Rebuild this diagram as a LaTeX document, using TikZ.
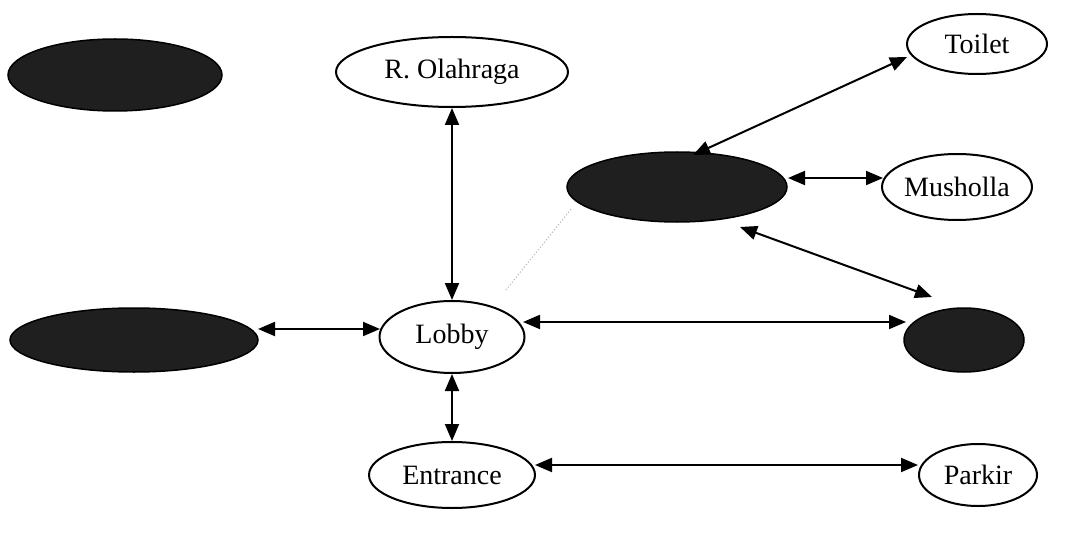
\documentclass[tikz,border=0pt]{standalone}
\usepackage{fontspec}
\setmainfont{Liberation Serif}
\usetikzlibrary{shapes.geometric,arrows.meta}
\tikzset{
  lite/.style 2 args={ellipse, draw=black, line width=2pt, fill=white,
    minimum width=#1, minimum height=#2, inner sep=0pt,
    font=\fontsize{28}{30}\selectfont},
  dark/.style 2 args={ellipse, draw=black, line width=1.5pt, fill=black!88,
    minimum width=#1, minimum height=#2, inner sep=0pt},
  biarrow/.style={line width=2pt,
    {Triangle[length=17pt,width=14pt]}-{Triangle[length=17pt,width=14pt]}},
  faint/.style={line width=1.2pt, gray!50, dotted}
}
\begin{document}
\begin{tikzpicture}[x=1pt,y=-1pt]
\useasboundingbox (0,0) rectangle (1073,540);
% room nodes
\node[dark={214pt}{72pt}]  (dTL)    at (115,75)  {};
\node[lite={232pt}{70pt}]  (Olah)   at (452,72)  {R. Olahraga};
\node[lite={140pt}{60pt}]  (Toilet) at (977,44)  {Toilet};
\node[dark={220pt}{70pt}]  (dMid)   at (677,187) {};
\node[lite={150pt}{66pt}]  (Mush)   at (957,187) {Musholla};
\node[dark={248pt}{64pt}]  (dLeft)  at (134,340) {};
\node[lite={145pt}{72pt}]  (Lobby)  at (452,337) {Lobby};
\node[dark={120pt}{64pt}]  (dRight) at (964,340) {};
\node[lite={166pt}{66pt}]  (Entr)   at (452,475) {Entrance};
\node[lite={118pt}{62pt}]  (Parkir) at (978,475) {Parkir};
% connections
\draw[biarrow] (Olah.south) -- (Lobby.north);
\draw[biarrow] (Lobby.south) -- (Entr.north);
\draw[biarrow] ([xshift=124pt,yshift=11pt]dLeft.center) -- ([xshift=-72pt,yshift=8pt]Lobby.center);
\draw[biarrow] ([xshift=71pt,yshift=15pt]Lobby.center) -- ([xshift=-58pt,yshift=18pt]dRight.center);
\draw[biarrow] ([xshift=83pt,yshift=10pt]Entr.center) -- ([xshift=-60pt,yshift=10pt]Parkir.center);
\draw[biarrow] ([xshift=16pt,yshift=32pt]dMid.center) -- ([xshift=-70pt,yshift=-13pt]Toilet.center);
\draw[biarrow] ([xshift=111pt,yshift=9pt]dMid.center) -- ([xshift=-74pt,yshift=9pt]Mush.center);
\draw[biarrow] ([xshift=63pt,yshift=-40pt]dMid.center) -- ([xshift=-32pt,yshift=43pt]dRight.center);
\draw[faint] ([xshift=54pt,yshift=47pt]Lobby.center) -- ([xshift=-105pt,yshift=-21pt]dMid.center);
\end{tikzpicture}
\end{document}
